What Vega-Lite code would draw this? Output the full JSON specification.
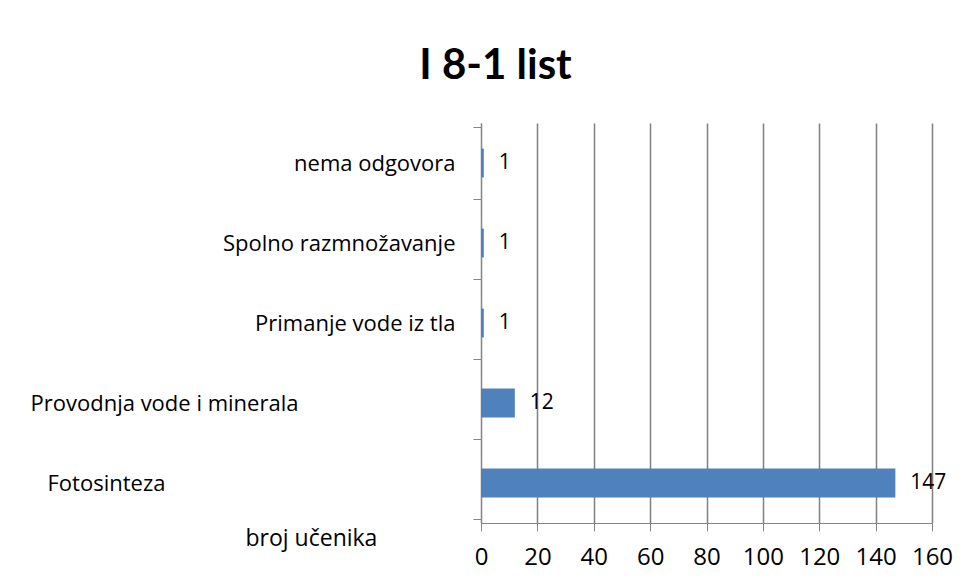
{
  "$schema": "https://vega.github.io/schema/vega-lite/v6.json",
  "autosize": {"type": "none"},
  "padding": {"left": 481, "top": 123, "right": 38, "bottom": 59},
  "width": 451,
  "height": 400,
  "background": "white",
  "title": {
    "text": "I 8-1 list",
    "font": "Lato",
    "fontSize": 42,
    "fontWeight": "bold",
    "color": "#000000",
    "anchor": "middle",
    "baseline": "alphabetic",
    "offset": 46,
    "dx": -211,
    "dy": 55
  },
  "data": {
    "values": [
      {"odgovor": "nema odgovora", "broj": 1},
      {"odgovor": "Spolno razmnožavanje", "broj": 1},
      {"odgovor": "Primanje vode iz tla", "broj": 1},
      {"odgovor": "Provodnja vode i minerala", "broj": 12},
      {"odgovor": "Fotosinteza", "broj": 147}
    ]
  },
  "encoding": {
    "y": {
      "field": "odgovor",
      "type": "nominal",
      "sort": null,
      "axis": {
        "title": null,
        "domainColor": "#868686",
        "tickColor": "#868686",
        "tickSize": 8,
        "tickBand": "extent",
        "labelFont": "Open Sans",
        "labelFontSize": 22,
        "labelColor": "#000000",
        "labelLimit": 600,
        "labelAlign": {"condition": {"test": "datum.value == 'Fotosinteza' || datum.value == 'Provodnja vode i minerala'", "value": "left"}, "value": "right"},
        "labelPadding": {"condition": [{"test": "datum.value == 'Fotosinteza'", "value": 426}, {"test": "datum.value == 'Provodnja vode i minerala'", "value": 443}], "value": 18}
      }
    },
    "x": {
      "field": "broj",
      "type": "quantitative",
      "scale": {"domain": [0, 160], "nice": false},
      "axis": {
        "values": [0, 20, 40, 60, 80, 100, 120, 140, 160],
        "grid": true,
        "gridColor": "#808080",
        "gridWidth": 1.5,
        "domainColor": "#868686",
        "tickColor": "#868686",
        "tickSize": 8,
        "labelFont": "Open Sans",
        "labelFontSize": 24,
        "labelColor": "#000000",
        "labelPadding": 14,
        "labelFlush": false,
        "title": "broj učenika",
        "titleFont": "Open Sans",
        "titleFontSize": 23,
        "titleFontWeight": "normal",
        "titleColor": "#000000",
        "titleAlign": "left",
        "titleBaseline": "alphabetic",
        "titleX": -236,
        "titleY": 22
      }
    }
  },
  "layer": [
    {
      "mark": {"type": "bar", "color": "#4F81BD", "height": {"band": 0.4}}
    },
    {
      "mark": {"type": "text", "align": "left", "baseline": "middle", "dx": 15, "font": "Open Sans", "fontSize": 21, "color": "#000000"},
      "encoding": {"text": {"field": "broj", "type": "quantitative"}}
    }
  ],
  "config": {
    "view": {"stroke": null}
  }
}
